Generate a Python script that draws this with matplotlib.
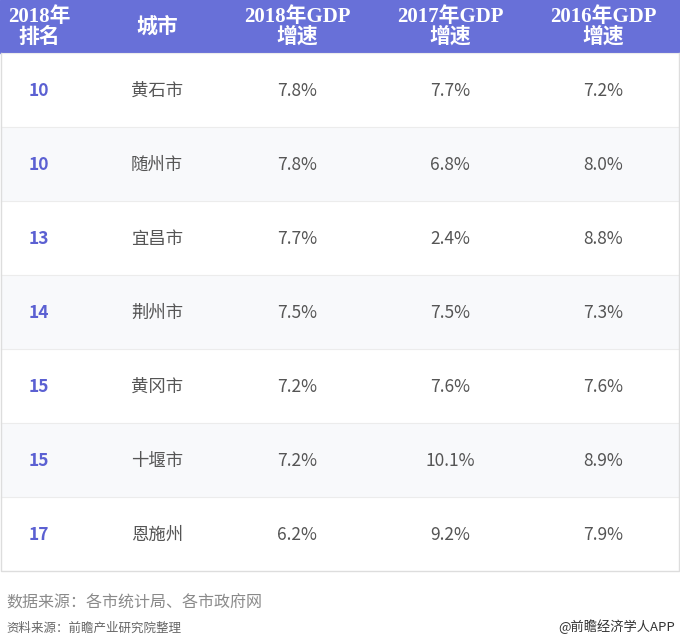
import matplotlib.pyplot as plt
from matplotlib.patches import Rectangle

plt.rcParams['font.family'] = ['Noto Sans CJK SC', 'DejaVu Sans']

# table data
headers = ['2018年\n排名', '城市', '2018年GDP\n增速', '2017年GDP\n增速', '2016年GDP\n增速']
ranks = ['10', '10', '13', '14', '15', '15', '17']
cities = ['黄石市', '随州市', '宜昌市', '荆州市', '黄冈市', '十堰市', '恩施州']
gdp_2018 = ['7.8%', '7.8%', '7.7%', '7.5%', '7.2%', '7.2%', '6.2%']
gdp_2017 = ['7.7%', '6.8%', '2.4%', '7.5%', '7.6%', '10.1%', '9.2%']
gdp_2016 = ['7.2%', '8.0%', '8.8%', '7.3%', '7.6%', '8.9%', '7.9%']

W, H = 680, 639
col_x = [39, 157, 297, 450, 603]
header_h = 53
row_h = 74

fig = plt.figure(figsize=(W / 100, H / 100), dpi=100)
ax = fig.add_axes([0, 0, 1, 1])
ax.set_xlim(0, W)
ax.set_ylim(H, 0)
ax.axis('off')

# header band
ax.add_patch(Rectangle((0, 0), W, header_h, color='#6870d8', zorder=1))
serif = ['Liberation Serif', 'Noto Sans CJK SC']
for x, h in zip(col_x, headers):
    ax.text(x, header_h / 2 + 1, h, ha='center', va='center', color='white',
            fontsize=15, fontweight='bold', family=serif, linespacing=1.05)

# rows
for i in range(len(ranks)):
    y0 = header_h + i * row_h
    bg = '#ffffff' if i % 2 == 0 else '#f8f9fb'
    ax.add_patch(Rectangle((1, y0), W - 2, row_h, facecolor=bg, edgecolor='none', zorder=1))
    ax.plot([1, W - 1], [y0, y0], color='#ececec', lw=0.8, zorder=2)
    yc = y0 + row_h / 2 + 1
    ax.text(col_x[0], yc, ranks[i], ha='center', va='center', color='#5b60d2',
            fontsize=12.5, fontweight='bold')
    vals = [cities[i], gdp_2018[i], gdp_2017[i], gdp_2016[i]]
    for x, v in zip(col_x[1:], vals):
        ax.text(x, yc, v, ha='center', va='center', color='#555555', fontsize=12.5)

bottom = header_h + len(ranks) * row_h
ax.plot([1, 1, W - 1, W - 1], [header_h, bottom, bottom, header_h], color='#dddddd', lw=1, zorder=3)

# sources
ax.text(6, 603, '数据来源：各市统计局、各市政府网', ha='left', va='center',
        color='#8a8a8a', fontsize=11.5)
ax.text(6, 628, '资料来源：前瞻产业研究院整理', ha='left', va='center',
        color='#666666', fontsize=9, style='italic')
ax.text(675, 627, '@前瞻经济学人APP', ha='right', va='center',
        color='#333333', fontsize=9.5)

fig.savefig('out.png', dpi=100)
